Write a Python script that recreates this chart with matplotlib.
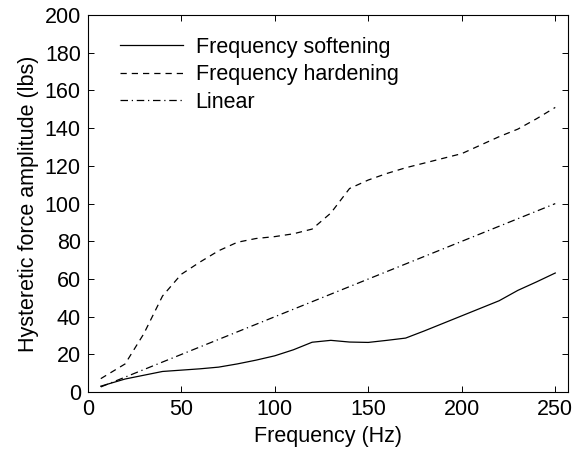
import matplotlib
matplotlib.use("Agg")
import matplotlib.pyplot as plt

plt.rcParams["font.family"] = ["Liberation Sans", "DejaVu Sans"]

# frequency in Hz
freq = [7, 20, 30, 40, 50, 60, 70, 80, 90, 100, 110, 120, 130,
        140, 150, 160, 170, 180, 190, 200, 210, 220, 230, 240, 250]

# hysteretic force amplitude (lbs)
softening = [3.2, 7.0, 9.0, 11.0, 11.7, 12.4, 13.3, 15.0, 17.0, 19.3, 22.5,
             26.5, 27.5, 26.6, 26.4, 27.5, 28.7, 32.5, 36.5, 40.5, 44.5,
             48.5, 54.0, 58.5, 63.2]
hardening = [7.2, 15.0, 31.0, 51.0, 62.5, 69.0, 75.0, 79.5, 81.5, 82.5, 84.0,
             86.5, 95.0, 108.0, 112.5, 116.0, 119.0, 121.5, 124.0, 126.5,
             131.0, 135.5, 139.5, 145.0, 151.0]
linear = [2.8, 8.0, 12.0, 16.0, 20.0, 24.0, 28.0, 32.0, 36.0, 40.0, 44.0,
          48.0, 52.0, 56.0, 60.0, 64.0, 68.0, 72.0, 76.0, 80.0, 84.0, 88.0,
          92.0, 96.0, 100.0]

fig = plt.figure(figsize=(5.77, 4.55), dpi=100)
ax = fig.add_axes([0.152, 0.138, 0.833, 0.829])

lw = 0.9
ax.plot(freq, softening, color="black", lw=lw, ls="-", label="Frequency softening")
ax.plot(freq, hardening, color="black", lw=lw, ls=(0, (5, 4)), label="Frequency hardening")
ax.plot(freq, linear, color="black", lw=lw, ls=(0, (6, 3, 1, 3)), label="Linear")

fs = 15.5
ax.set_xlim(0, 257)
ax.set_ylim(0, 200)
ax.set_xticks([0, 50, 100, 150, 200, 250])
ax.set_yticks(range(0, 201, 20))
ax.tick_params(direction="in", length=4, width=0.7, labelsize=fs, top=True, right=True,
               labeltop=False, labelright=False, pad=5)
for s in ax.spines.values():
    s.set_linewidth(0.8)

ax.set_xlabel("Frequency (Hz)", fontsize=fs, labelpad=4)
ax.set_ylabel("Hysteretic force amplitude (lbs)", fontsize=fs, labelpad=4)

ax.legend(loc="upper left", frameon=False, fontsize=fs, handlelength=2.9,
          handletextpad=0.6, labelspacing=0.3, borderaxespad=0.0,
          bbox_to_anchor=(0.05, 0.965))

fig.savefig("out.png", dpi=100)
